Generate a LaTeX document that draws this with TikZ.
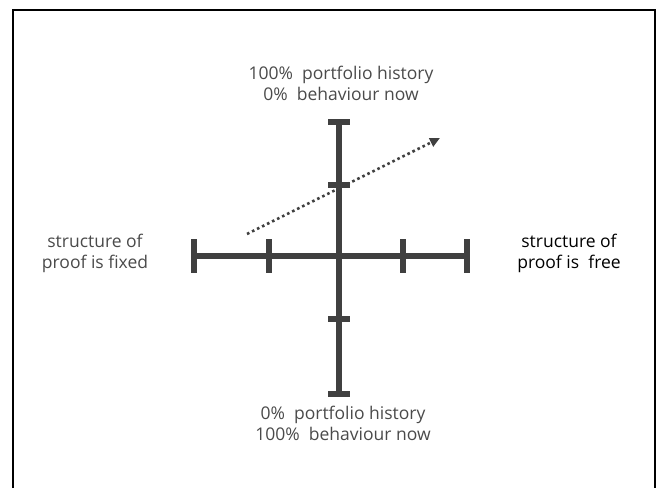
\documentclass[tikz,border=0pt]{standalone}
\usepackage{fontspec}
\setmainfont{Open Sans}
\usepackage{xcolor}
\usetikzlibrary{arrows.meta,positioning}

\definecolor{axisgray}{HTML}{404040}
\definecolor{textgray}{HTML}{4A4A4A}

\tikzset{
  axisline/.style={line width=6pt, draw=axisgray, line cap=butt},
  label/.style={align=center, font=\fontsize{17.5}{21}\selectfont, text=textgray, inner sep=0pt}
}

\begin{document}
\begin{tikzpicture}[x=1pt, y=-1pt]
  \useasboundingbox (0,0) rectangle (661,488);

  % frame, open at the bottom
  \draw[line width=2.2pt, black] (13,488) -- (13,10) -- (655,10) -- (655,488);

  % axis end points
  \coordinate (west) at (194,256);
  \coordinate (east) at (467,256);
  \coordinate (north) at (339,122);
  \coordinate (south) at (339,394);

  % horizontal axis with ticks
  \draw[axisline] (west) -- (east);
  \foreach \x in {194,269,403,467}
    \draw[axisline] (\x,239) -- (\x,273);

  % vertical axis with ticks
  \draw[axisline] (north) -- (south);
  \foreach \y in {122,185,319,394}
    \draw[axisline] (328,\y) -- (350,\y);

  % labels
  \node[label] (top) at (341,83) {100\%\ \ portfolio history\\0\%\ \ behaviour now};
  \node[label] (bottom) at (343,423) {0\%\ \ portfolio history\\100\%\ \ behaviour now};
  \node[label] (fixed) at (95,253) {structure of\\proof is fixed};
  \node[label, text=black] (free) at (569,253) {structure of\\proof is\ \ free};

  % trend arrow
  \coordinate (start) at (247,234);
  \coordinate (tip) at (440,138);
  \draw[axisgray, line width=2.6pt, dash pattern=on 2.6pt off 3pt, -{Triangle[length=10pt,width=9pt]}] (start) -- (tip);
\end{tikzpicture}
\end{document}
